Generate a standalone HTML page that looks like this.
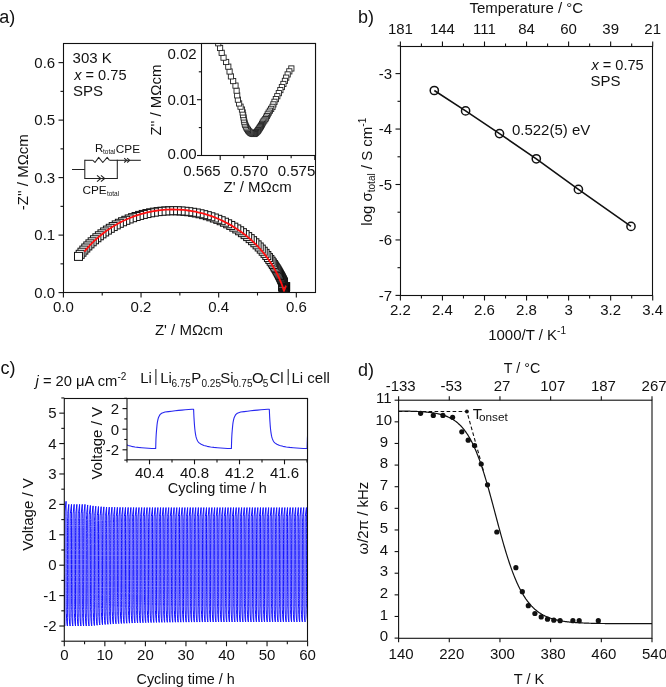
<!DOCTYPE html><html><head><meta charset="utf-8"><style>html,body{margin:0;padding:0;background:#fff;}svg{display:block;will-change:transform;}text{font-family:"Liberation Sans",sans-serif;fill:#111;}</style></head><body><svg width="666" height="687" viewBox="0 0 666 687"><rect width="666" height="687" fill="#fff"/><text x="-0.80" y="22.80" font-size="18" text-anchor="start" >a)</text>
<clipPath id="cA"><rect x="63.5" y="43.5" width="252" height="249"/></clipPath>
<g clip-path="url(#cA)" fill="#fff" stroke="#111" stroke-width="1">
<rect x="281.65" y="282.62" width="8.0" height="8.0"/>
<rect x="281.57" y="282.82" width="8.0" height="8.0"/>
<rect x="281.50" y="283.03" width="8.0" height="8.0"/>
<rect x="281.44" y="283.25" width="8.0" height="8.0"/>
<rect x="281.39" y="283.47" width="8.0" height="8.0"/>
<rect x="281.33" y="283.69" width="8.0" height="8.0"/>
<rect x="281.26" y="283.90" width="8.0" height="8.0"/>
<rect x="281.20" y="284.11" width="8.0" height="8.0"/>
<rect x="281.14" y="284.32" width="8.0" height="8.0"/>
<rect x="281.08" y="284.53" width="8.0" height="8.0"/>
<rect x="281.02" y="284.73" width="8.0" height="8.0"/>
<rect x="280.96" y="284.91" width="8.0" height="8.0"/>
<rect x="280.92" y="285.09" width="8.0" height="8.0"/>
<rect x="280.88" y="285.26" width="8.0" height="8.0"/>
<rect x="280.82" y="285.40" width="8.0" height="8.0"/>
<rect x="280.77" y="285.52" width="8.0" height="8.0"/>
<rect x="280.72" y="285.65" width="8.0" height="8.0"/>
<rect x="280.68" y="285.78" width="8.0" height="8.0"/>
<rect x="280.65" y="285.89" width="8.0" height="8.0"/>
<rect x="280.61" y="286.00" width="8.0" height="8.0"/>
<rect x="280.58" y="286.10" width="8.0" height="8.0"/>
<rect x="280.54" y="286.19" width="8.0" height="8.0"/>
<rect x="280.51" y="286.26" width="8.0" height="8.0"/>
<rect x="280.48" y="286.35" width="8.0" height="8.0"/>
<rect x="280.45" y="286.43" width="8.0" height="8.0"/>
<rect x="280.43" y="286.51" width="8.0" height="8.0"/>
<rect x="280.40" y="286.58" width="8.0" height="8.0"/>
<rect x="280.38" y="286.64" width="8.0" height="8.0"/>
<rect x="280.36" y="286.70" width="8.0" height="8.0"/>
<rect x="280.33" y="286.75" width="8.0" height="8.0"/>
<rect x="280.31" y="286.81" width="8.0" height="8.0"/>
<rect x="280.29" y="286.86" width="8.0" height="8.0"/>
<rect x="280.27" y="286.90" width="8.0" height="8.0"/>
<rect x="280.25" y="286.95" width="8.0" height="8.0"/>
<rect x="280.23" y="286.99" width="8.0" height="8.0"/>
<rect x="280.20" y="287.03" width="8.0" height="8.0"/>
<rect x="280.18" y="287.06" width="8.0" height="8.0"/>
<rect x="280.16" y="287.08" width="8.0" height="8.0"/>
<rect x="280.14" y="287.11" width="8.0" height="8.0"/>
<rect x="280.11" y="287.12" width="8.0" height="8.0"/>
<rect x="280.07" y="287.11" width="8.0" height="8.0"/>
<rect x="280.03" y="287.09" width="8.0" height="8.0"/>
<rect x="280.00" y="287.06" width="8.0" height="8.0"/>
<rect x="279.96" y="287.02" width="8.0" height="8.0"/>
<rect x="279.93" y="286.97" width="8.0" height="8.0"/>
<rect x="279.90" y="286.92" width="8.0" height="8.0"/>
<rect x="279.87" y="286.85" width="8.0" height="8.0"/>
<rect x="279.84" y="286.78" width="8.0" height="8.0"/>
<rect x="279.82" y="286.69" width="8.0" height="8.0"/>
<rect x="279.79" y="286.61" width="8.0" height="8.0"/>
<rect x="279.76" y="286.51" width="8.0" height="8.0"/>
<rect x="279.74" y="286.40" width="8.0" height="8.0"/>
<rect x="279.72" y="286.28" width="8.0" height="8.0"/>
<rect x="279.71" y="286.14" width="8.0" height="8.0"/>
<rect x="279.69" y="285.99" width="8.0" height="8.0"/>
<rect x="279.67" y="285.82" width="8.0" height="8.0"/>
<rect x="279.66" y="285.64" width="8.0" height="8.0"/>
<rect x="279.63" y="285.44" width="8.0" height="8.0"/>
<rect x="279.57" y="285.25" width="8.0" height="8.0"/>
<rect x="279.51" y="285.02" width="8.0" height="8.0"/>
<rect x="279.46" y="284.76" width="8.0" height="8.0"/>
<rect x="279.43" y="284.47" width="8.0" height="8.0"/>
<rect x="279.41" y="284.15" width="8.0" height="8.0"/>
<rect x="279.36" y="283.80" width="8.0" height="8.0"/>
<rect x="279.26" y="283.49" width="8.0" height="8.0"/>
<rect x="279.17" y="283.17" width="8.0" height="8.0"/>
<rect x="279.12" y="282.83" width="8.0" height="8.0"/>
<rect x="279.07" y="282.50" width="8.0" height="8.0"/>
<rect x="278.98" y="282.18" width="8.0" height="8.0"/>
<rect x="278.87" y="281.88" width="8.0" height="8.0"/>
<rect x="278.79" y="281.55" width="8.0" height="8.0"/>
<rect x="278.73" y="281.21" width="8.0" height="8.0"/>
<rect x="278.65" y="280.89" width="8.0" height="8.0"/>
<rect x="278.61" y="280.54" width="8.0" height="8.0"/>
<rect x="279.54" y="279.08" width="8.0" height="8.0"/>
<rect x="279.36" y="278.66" width="8.0" height="8.0"/>
<rect x="279.17" y="278.24" width="8.0" height="8.0"/>
<rect x="278.98" y="277.81" width="8.0" height="8.0"/>
<rect x="278.79" y="277.39" width="8.0" height="8.0"/>
<rect x="278.59" y="276.95" width="8.0" height="8.0"/>
<rect x="278.37" y="276.49" width="8.0" height="8.0"/>
<rect x="278.14" y="275.99" width="8.0" height="8.0"/>
<rect x="277.89" y="275.47" width="8.0" height="8.0"/>
<rect x="277.63" y="274.91" width="8.0" height="8.0"/>
<rect x="277.34" y="274.31" width="8.0" height="8.0"/>
<rect x="277.03" y="273.68" width="8.0" height="8.0"/>
<rect x="276.69" y="273.01" width="8.0" height="8.0"/>
<rect x="276.33" y="272.30" width="8.0" height="8.0"/>
<rect x="275.93" y="271.53" width="8.0" height="8.0"/>
<rect x="275.51" y="270.72" width="8.0" height="8.0"/>
<rect x="275.04" y="269.86" width="8.0" height="8.0"/>
<rect x="274.54" y="268.93" width="8.0" height="8.0"/>
<rect x="273.99" y="267.95" width="8.0" height="8.0"/>
<rect x="273.38" y="266.90" width="8.0" height="8.0"/>
<rect x="272.73" y="265.78" width="8.0" height="8.0"/>
<rect x="272.01" y="264.58" width="8.0" height="8.0"/>
<rect x="271.22" y="263.30" width="8.0" height="8.0"/>
<rect x="270.35" y="261.93" width="8.0" height="8.0"/>
<rect x="269.39" y="260.47" width="8.0" height="8.0"/>
<rect x="268.33" y="258.90" width="8.0" height="8.0"/>
<rect x="267.16" y="257.23" width="8.0" height="8.0"/>
<rect x="265.86" y="255.45" width="8.0" height="8.0"/>
<rect x="264.42" y="253.55" width="8.0" height="8.0"/>
<rect x="262.82" y="251.52" width="8.0" height="8.0"/>
<rect x="261.05" y="249.38" width="8.0" height="8.0"/>
<rect x="259.19" y="247.24" width="8.0" height="8.0"/>
<rect x="257.25" y="245.10" width="8.0" height="8.0"/>
<rect x="255.22" y="242.98" width="8.0" height="8.0"/>
<rect x="253.10" y="240.86" width="8.0" height="8.0"/>
<rect x="250.88" y="238.76" width="8.0" height="8.0"/>
<rect x="248.57" y="236.68" width="8.0" height="8.0"/>
<rect x="246.17" y="234.62" width="8.0" height="8.0"/>
<rect x="243.67" y="232.60" width="8.0" height="8.0"/>
<rect x="241.09" y="230.62" width="8.0" height="8.0"/>
<rect x="238.41" y="228.67" width="8.0" height="8.0"/>
<rect x="235.63" y="226.78" width="8.0" height="8.0"/>
<rect x="232.77" y="224.94" width="8.0" height="8.0"/>
<rect x="229.82" y="223.16" width="8.0" height="8.0"/>
<rect x="226.78" y="221.44" width="8.0" height="8.0"/>
<rect x="223.65" y="219.79" width="8.0" height="8.0"/>
<rect x="220.44" y="218.22" width="8.0" height="8.0"/>
<rect x="217.16" y="216.73" width="8.0" height="8.0"/>
<rect x="213.80" y="215.33" width="8.0" height="8.0"/>
<rect x="210.37" y="214.02" width="8.0" height="8.0"/>
<rect x="206.87" y="212.80" width="8.0" height="8.0"/>
<rect x="203.31" y="211.68" width="8.0" height="8.0"/>
<rect x="199.70" y="210.67" width="8.0" height="8.0"/>
<rect x="196.03" y="209.77" width="8.0" height="8.0"/>
<rect x="192.32" y="208.98" width="8.0" height="8.0"/>
<rect x="188.57" y="208.30" width="8.0" height="8.0"/>
<rect x="184.78" y="207.74" width="8.0" height="8.0"/>
<rect x="180.97" y="207.30" width="8.0" height="8.0"/>
<rect x="177.14" y="206.98" width="8.0" height="8.0"/>
<rect x="173.30" y="206.78" width="8.0" height="8.0"/>
<rect x="169.45" y="206.70" width="8.0" height="8.0"/>
<rect x="165.60" y="206.75" width="8.0" height="8.0"/>
<rect x="161.76" y="206.92" width="8.0" height="8.0"/>
<rect x="157.94" y="207.21" width="8.0" height="8.0"/>
<rect x="154.13" y="207.62" width="8.0" height="8.0"/>
<rect x="150.35" y="208.15" width="8.0" height="8.0"/>
<rect x="146.61" y="208.80" width="8.0" height="8.0"/>
<rect x="142.90" y="209.56" width="8.0" height="8.0"/>
<rect x="139.25" y="210.43" width="8.0" height="8.0"/>
<rect x="135.64" y="211.41" width="8.0" height="8.0"/>
<rect x="132.09" y="212.49" width="8.0" height="8.0"/>
<rect x="128.60" y="213.67" width="8.0" height="8.0"/>
<rect x="125.18" y="214.94" width="8.0" height="8.0"/>
<rect x="121.83" y="216.31" width="8.0" height="8.0"/>
<rect x="118.56" y="217.76" width="8.0" height="8.0"/>
<rect x="115.36" y="219.29" width="8.0" height="8.0"/>
<rect x="112.24" y="220.89" width="8.0" height="8.0"/>
<rect x="109.21" y="222.56" width="8.0" height="8.0"/>
<rect x="106.26" y="224.30" width="8.0" height="8.0"/>
<rect x="103.41" y="226.10" width="8.0" height="8.0"/>
<rect x="100.64" y="227.95" width="8.0" height="8.0"/>
<rect x="97.96" y="229.84" width="8.0" height="8.0"/>
<rect x="95.37" y="231.78" width="8.0" height="8.0"/>
<rect x="92.88" y="233.76" width="8.0" height="8.0"/>
<rect x="90.48" y="235.76" width="8.0" height="8.0"/>
<rect x="88.17" y="237.80" width="8.0" height="8.0"/>
<rect x="85.95" y="239.85" width="8.0" height="8.0"/>
<rect x="83.82" y="241.93" width="8.0" height="8.0"/>
<rect x="81.78" y="244.01" width="8.0" height="8.0"/>
<rect x="79.83" y="246.10" width="8.0" height="8.0"/>
<rect x="77.96" y="248.20" width="8.0" height="8.0"/>
<rect x="76.18" y="250.30" width="8.0" height="8.0"/>
<rect x="74.49" y="252.39" width="8.0" height="8.0"/>
</g>
<polyline points="84.39,251.60 85.98,249.69 87.61,247.82 89.28,245.98 90.99,244.18 92.74,242.42 94.52,240.70 96.35,239.01 98.21,237.37 100.10,235.77 102.03,234.20 103.99,232.68 105.98,231.21 108.01,229.78 110.07,228.39 112.15,227.04 114.27,225.74 116.41,224.49 118.58,223.29 120.77,222.13 122.99,221.02 125.24,219.96 127.50,218.95 129.79,217.98 132.10,217.07 134.42,216.21 136.77,215.39 139.13,214.63 141.51,213.92 143.90,213.27 146.31,212.66 148.72,212.11 151.16,211.61 153.60,211.16 156.05,210.76 158.50,210.42 160.97,210.14 163.44,209.90 165.91,209.72 168.39,209.59 170.87,209.52 173.35,209.50 175.83,209.54 178.31,209.62 180.79,209.77 183.27,209.96 185.73,210.21 188.20,210.51 190.65,210.87 193.10,211.28 195.54,211.74 197.97,212.26 200.38,212.83 202.78,213.45 205.17,214.12 207.55,214.85 209.90,215.62 212.24,216.45 214.56,217.32 216.87,218.25 219.15,219.23 221.41,220.26 223.64,221.33 225.85,222.45 228.04,223.63 230.20,224.84 232.34,226.11 234.45,227.42 236.52,228.78 238.57,230.18 240.62,231.58 242.63,233.03 244.62,234.53 246.57,236.07 248.49,237.65 250.38,239.27 252.23,240.93 254.04,242.64 255.82,244.38 257.56,246.16 259.27,247.99 260.93,249.84 262.55,251.74 264.14,253.67 265.68,255.64 267.18,257.63 268.63,259.67 270.04,261.73 271.41,263.83 272.73,265.95 274.01,268.11 275.24,270.29 276.42,272.50 277.55,274.74 278.64,277.00 279.68,279.28 280.67,281.59 281.60,283.92 282.45,286.29 283.24,288.67 283.97,291.07" fill="none" stroke="#ff1010" stroke-width="1.8" stroke-linejoin="round" />
<polyline points="283.97,291.07 285.80,286.20" fill="none" stroke="#ff1010" stroke-width="1.7" stroke-linejoin="round" stroke-linecap="round"/>
<rect x="63.50" y="43.50" width="252.00" height="249.00" fill="none" stroke="#111" stroke-width="1.1"/>
<line x1="58.50" y1="292.60" x2="63.50" y2="292.60" stroke="#111" stroke-width="1.1" />
<text x="55.20" y="297.90" font-size="15" text-anchor="end" >0.0</text>
<line x1="58.50" y1="235.11" x2="63.50" y2="235.11" stroke="#111" stroke-width="1.1" />
<text x="55.20" y="240.41" font-size="15" text-anchor="end" >0.1</text>
<line x1="58.50" y1="177.61" x2="63.50" y2="177.61" stroke="#111" stroke-width="1.1" />
<text x="55.20" y="182.91" font-size="15" text-anchor="end" >0.3</text>
<line x1="58.50" y1="120.12" x2="63.50" y2="120.12" stroke="#111" stroke-width="1.1" />
<text x="55.20" y="125.42" font-size="15" text-anchor="end" >0.5</text>
<line x1="58.50" y1="62.62" x2="63.50" y2="62.62" stroke="#111" stroke-width="1.1" />
<text x="55.20" y="67.92" font-size="15" text-anchor="end" >0.6</text>
<line x1="60.50" y1="263.85" x2="63.50" y2="263.85" stroke="#111" stroke-width="1.1" />
<line x1="60.50" y1="206.36" x2="63.50" y2="206.36" stroke="#111" stroke-width="1.1" />
<line x1="60.50" y1="148.86" x2="63.50" y2="148.86" stroke="#111" stroke-width="1.1" />
<line x1="60.50" y1="91.37" x2="63.50" y2="91.37" stroke="#111" stroke-width="1.1" />
<line x1="63.40" y1="292.50" x2="63.40" y2="297.50" stroke="#111" stroke-width="1.1" />
<text x="63.40" y="312.30" font-size="15" text-anchor="middle" >0.0</text>
<line x1="141.04" y1="292.50" x2="141.04" y2="297.50" stroke="#111" stroke-width="1.1" />
<text x="141.04" y="312.30" font-size="15" text-anchor="middle" >0.2</text>
<line x1="218.68" y1="292.50" x2="218.68" y2="297.50" stroke="#111" stroke-width="1.1" />
<text x="218.68" y="312.30" font-size="15" text-anchor="middle" >0.4</text>
<line x1="296.32" y1="292.50" x2="296.32" y2="297.50" stroke="#111" stroke-width="1.1" />
<text x="296.32" y="312.30" font-size="15" text-anchor="middle" >0.6</text>
<line x1="102.22" y1="292.50" x2="102.22" y2="295.50" stroke="#111" stroke-width="1.1" />
<line x1="179.86" y1="292.50" x2="179.86" y2="295.50" stroke="#111" stroke-width="1.1" />
<line x1="257.50" y1="292.50" x2="257.50" y2="295.50" stroke="#111" stroke-width="1.1" />
<text x="189.00" y="335.40" font-size="15" text-anchor="middle" >Z' / MΩcm</text>
<text transform="translate(27.5,172.2) rotate(-90)" font-size="15" text-anchor="middle">-Z'' / MΩcm</text>
<text x="72.60" y="62.70" font-size="15" text-anchor="start" >303 K</text>
<text x="74.2" y="80" font-size="14.6"><tspan font-style="italic">x</tspan> = 0.75</text>
<text x="72.90" y="95.70" font-size="15" text-anchor="start" >SPS</text>
<line x1="72.00" y1="169.50" x2="84.80" y2="169.50" stroke="#222" stroke-width="1.05" />
<line x1="84.80" y1="160.30" x2="84.80" y2="178.50" stroke="#222" stroke-width="1.05" stroke-linecap="square"/>
<line x1="84.80" y1="160.30" x2="92.90" y2="160.30" stroke="#222" stroke-width="1.05" />
<polyline points="92.90,160.30 95.00,162.50 98.70,157.40 102.80,162.50 107.20,157.40 109.40,160.30" fill="none" stroke="#222" stroke-width="1.05" stroke-linejoin="round" />
<line x1="109.40" y1="160.30" x2="140.80" y2="160.30" stroke="#222" stroke-width="1.05" />
<line x1="117.30" y1="160.30" x2="117.30" y2="178.50" stroke="#222" stroke-width="1.05" stroke-linecap="square"/>
<line x1="84.80" y1="178.50" x2="117.30" y2="178.50" stroke="#222" stroke-width="1.05" />
<polyline points="124.20,158.10 126.80,160.30 124.20,162.50" fill="none" stroke="#222" stroke-width="1.05" stroke-linejoin="round" />
<polyline points="127.10,158.10 129.70,160.30 127.10,162.50" fill="none" stroke="#222" stroke-width="1.05" stroke-linejoin="round" />
<polyline points="97.00,175.30 100.70,178.50 97.00,181.70" fill="none" stroke="#222" stroke-width="1.05" stroke-linejoin="round" />
<polyline points="100.90,175.30 104.60,178.50 100.90,181.70" fill="none" stroke="#222" stroke-width="1.05" stroke-linejoin="round" />
<text x="94.90" y="151.60" font-size="11.5" text-anchor="start" >R</text>
<text x="103.00" y="154.00" font-size="6.5" text-anchor="start" >total</text>
<text x="115.80" y="153.20" font-size="11.8" text-anchor="start" >CPE</text>
<text x="82.40" y="193.50" font-size="11.8" text-anchor="start" >CPE</text>
<text x="106.90" y="195.90" font-size="6.5" text-anchor="start" >total</text>
<clipPath id="ca"><rect x="201.5" y="43.5" width="114" height="112"/></clipPath>
<rect x="201.5" y="43.5" width="114" height="112" fill="#fff"/>
<g clip-path="url(#ca)" fill="#fff" stroke="#222" stroke-width="0.9">
<rect x="288.75" y="65.87" width="5.2" height="5.2"/>
<rect x="286.71" y="68.76" width="5.2" height="5.2"/>
<rect x="285.06" y="71.82" width="5.2" height="5.2"/>
<rect x="283.61" y="75.05" width="5.2" height="5.2"/>
<rect x="282.31" y="78.27" width="5.2" height="5.2"/>
<rect x="280.82" y="81.36" width="5.2" height="5.2"/>
<rect x="279.29" y="84.43" width="5.2" height="5.2"/>
<rect x="277.76" y="87.49" width="5.2" height="5.2"/>
<rect x="276.23" y="90.55" width="5.2" height="5.2"/>
<rect x="274.70" y="93.62" width="5.2" height="5.2"/>
<rect x="273.26" y="96.50" width="5.2" height="5.2"/>
<rect x="271.90" y="99.20" width="5.2" height="5.2"/>
<rect x="270.81" y="101.79" width="5.2" height="5.2"/>
<rect x="269.90" y="104.24" width="5.2" height="5.2"/>
<rect x="268.55" y="106.26" width="5.2" height="5.2"/>
<rect x="267.31" y="108.12" width="5.2" height="5.2"/>
<rect x="266.11" y="110.01" width="5.2" height="5.2"/>
<rect x="265.12" y="111.81" width="5.2" height="5.2"/>
<rect x="264.25" y="113.44" width="5.2" height="5.2"/>
<rect x="263.44" y="115.06" width="5.2" height="5.2"/>
<rect x="262.72" y="116.50" width="5.2" height="5.2"/>
<rect x="261.73" y="117.79" width="5.2" height="5.2"/>
<rect x="260.84" y="118.91" width="5.2" height="5.2"/>
<rect x="260.10" y="120.10" width="5.2" height="5.2"/>
<rect x="259.47" y="121.36" width="5.2" height="5.2"/>
<rect x="258.93" y="122.45" width="5.2" height="5.2"/>
<rect x="258.32" y="123.49" width="5.2" height="5.2"/>
<rect x="257.76" y="124.34" width="5.2" height="5.2"/>
<rect x="257.20" y="125.18" width="5.2" height="5.2"/>
<rect x="256.63" y="126.03" width="5.2" height="5.2"/>
<rect x="256.07" y="126.87" width="5.2" height="5.2"/>
<rect x="255.62" y="127.55" width="5.2" height="5.2"/>
<rect x="255.17" y="128.22" width="5.2" height="5.2"/>
<rect x="254.61" y="128.84" width="5.2" height="5.2"/>
<rect x="254.01" y="129.44" width="5.2" height="5.2"/>
<rect x="253.41" y="130.04" width="5.2" height="5.2"/>
<rect x="252.90" y="130.45" width="5.2" height="5.2"/>
<rect x="252.35" y="130.82" width="5.2" height="5.2"/>
<rect x="251.81" y="131.20" width="5.2" height="5.2"/>
<rect x="251.25" y="131.41" width="5.2" height="5.2"/>
<rect x="250.25" y="131.21" width="5.2" height="5.2"/>
<rect x="249.29" y="130.91" width="5.2" height="5.2"/>
<rect x="248.39" y="130.46" width="5.2" height="5.2"/>
<rect x="247.55" y="129.89" width="5.2" height="5.2"/>
<rect x="246.80" y="129.14" width="5.2" height="5.2"/>
<rect x="246.05" y="128.39" width="5.2" height="5.2"/>
<rect x="245.37" y="127.38" width="5.2" height="5.2"/>
<rect x="244.70" y="126.36" width="5.2" height="5.2"/>
<rect x="243.98" y="125.15" width="5.2" height="5.2"/>
<rect x="243.35" y="123.89" width="5.2" height="5.2"/>
<rect x="242.63" y="122.45" width="5.2" height="5.2"/>
<rect x="242.14" y="120.88" width="5.2" height="5.2"/>
<rect x="241.69" y="119.08" width="5.2" height="5.2"/>
<rect x="241.33" y="117.08" width="5.2" height="5.2"/>
<rect x="241.00" y="114.88" width="5.2" height="5.2"/>
<rect x="240.52" y="112.48" width="5.2" height="5.2"/>
<rect x="240.07" y="109.87" width="5.2" height="5.2"/>
<rect x="239.38" y="106.95" width="5.2" height="5.2"/>
<rect x="237.94" y="104.07" width="5.2" height="5.2"/>
<rect x="236.49" y="100.84" width="5.2" height="5.2"/>
<rect x="235.30" y="97.06" width="5.2" height="5.2"/>
<rect x="234.58" y="92.76" width="5.2" height="5.2"/>
<rect x="234.00" y="88.06" width="5.2" height="5.2"/>
<rect x="232.89" y="82.99" width="5.2" height="5.2"/>
<rect x="230.55" y="78.47" width="5.2" height="5.2"/>
<rect x="228.34" y="73.78" width="5.2" height="5.2"/>
<rect x="226.98" y="68.89" width="5.2" height="5.2"/>
<rect x="225.69" y="64.05" width="5.2" height="5.2"/>
<rect x="223.53" y="59.38" width="5.2" height="5.2"/>
<rect x="220.93" y="55.05" width="5.2" height="5.2"/>
<rect x="219.09" y="50.21" width="5.2" height="5.2"/>
<rect x="217.48" y="45.38" width="5.2" height="5.2"/>
<rect x="215.64" y="40.67" width="5.2" height="5.2"/>
<rect x="214.52" y="35.60" width="5.2" height="5.2"/>
</g>
<rect x="201.5" y="43.5" width="114.0" height="112.0" fill="none" stroke="#111" stroke-width="1.1"/>
<line x1="197.00" y1="155.50" x2="201.50" y2="155.50" stroke="#111" stroke-width="1.1" />
<text x="196.60" y="159.20" font-size="15" text-anchor="end" >0.00</text>
<line x1="197.00" y1="99.70" x2="201.50" y2="99.70" stroke="#111" stroke-width="1.1" />
<text x="196.60" y="105.20" font-size="15" text-anchor="end" >0.01</text>
<text x="196.60" y="58.80" font-size="15" text-anchor="end" >0.02</text>
<line x1="198.80" y1="127.60" x2="201.50" y2="127.60" stroke="#111" stroke-width="1.1" />
<line x1="198.80" y1="71.80" x2="201.50" y2="71.80" stroke="#111" stroke-width="1.1" />
<line x1="220.20" y1="155.50" x2="220.20" y2="160.00" stroke="#111" stroke-width="1.1" />
<text x="220.70" y="176.20" font-size="15" text-anchor="end" >0.565</text>
<line x1="267.50" y1="155.50" x2="267.50" y2="160.00" stroke="#111" stroke-width="1.1" />
<text x="268.00" y="176.20" font-size="15" text-anchor="end" >0.570</text>
<line x1="314.80" y1="155.50" x2="314.80" y2="160.00" stroke="#111" stroke-width="1.1" />
<text x="315.30" y="176.20" font-size="15" text-anchor="end" >0.575</text>
<line x1="243.85" y1="155.50" x2="243.85" y2="158.20" stroke="#111" stroke-width="1.1" />
<line x1="291.15" y1="155.50" x2="291.15" y2="158.20" stroke="#111" stroke-width="1.1" />
<text x="257.70" y="192.20" font-size="15" text-anchor="middle" >Z' / MΩcm</text>
<text transform="translate(161.4,100) rotate(-90)" font-size="15" text-anchor="middle">Z'' / MΩcm</text>
<text x="358.10" y="22.90" font-size="18" text-anchor="start" >b)</text>
<rect x="400.50" y="46.50" width="252.00" height="249.00" fill="none" stroke="#111" stroke-width="1.1"/>
<line x1="400.40" y1="295.50" x2="400.40" y2="300.50" stroke="#111" stroke-width="1.1" />
<line x1="400.40" y1="46.50" x2="400.40" y2="41.50" stroke="#111" stroke-width="1.1" />
<text x="400.40" y="315.00" font-size="15" text-anchor="middle" >2.2</text>
<text x="400.40" y="34.20" font-size="15" text-anchor="middle" >181</text>
<line x1="442.45" y1="295.50" x2="442.45" y2="300.50" stroke="#111" stroke-width="1.1" />
<line x1="442.45" y1="46.50" x2="442.45" y2="41.50" stroke="#111" stroke-width="1.1" />
<text x="442.45" y="315.00" font-size="15" text-anchor="middle" >2.4</text>
<text x="442.45" y="34.20" font-size="15" text-anchor="middle" >144</text>
<line x1="484.50" y1="295.50" x2="484.50" y2="300.50" stroke="#111" stroke-width="1.1" />
<line x1="484.50" y1="46.50" x2="484.50" y2="41.50" stroke="#111" stroke-width="1.1" />
<text x="484.50" y="315.00" font-size="15" text-anchor="middle" >2.6</text>
<text x="484.50" y="34.20" font-size="15" text-anchor="middle" >111</text>
<line x1="526.55" y1="295.50" x2="526.55" y2="300.50" stroke="#111" stroke-width="1.1" />
<line x1="526.55" y1="46.50" x2="526.55" y2="41.50" stroke="#111" stroke-width="1.1" />
<text x="526.55" y="315.00" font-size="15" text-anchor="middle" >2.8</text>
<text x="526.55" y="34.20" font-size="15" text-anchor="middle" >84</text>
<line x1="568.60" y1="295.50" x2="568.60" y2="300.50" stroke="#111" stroke-width="1.1" />
<line x1="568.60" y1="46.50" x2="568.60" y2="41.50" stroke="#111" stroke-width="1.1" />
<text x="568.60" y="315.00" font-size="15" text-anchor="middle" >3</text>
<text x="568.60" y="34.20" font-size="15" text-anchor="middle" >60</text>
<line x1="610.65" y1="295.50" x2="610.65" y2="300.50" stroke="#111" stroke-width="1.1" />
<line x1="610.65" y1="46.50" x2="610.65" y2="41.50" stroke="#111" stroke-width="1.1" />
<text x="610.65" y="315.00" font-size="15" text-anchor="middle" >3.2</text>
<text x="610.65" y="34.20" font-size="15" text-anchor="middle" >39</text>
<line x1="652.70" y1="295.50" x2="652.70" y2="300.50" stroke="#111" stroke-width="1.1" />
<line x1="652.70" y1="46.50" x2="652.70" y2="41.50" stroke="#111" stroke-width="1.1" />
<text x="652.70" y="315.00" font-size="15" text-anchor="middle" >3.4</text>
<text x="652.70" y="34.20" font-size="15" text-anchor="middle" >21</text>
<line x1="421.42" y1="295.50" x2="421.42" y2="298.50" stroke="#111" stroke-width="1.1" />
<line x1="421.42" y1="46.50" x2="421.42" y2="43.50" stroke="#111" stroke-width="1.1" />
<line x1="463.47" y1="295.50" x2="463.47" y2="298.50" stroke="#111" stroke-width="1.1" />
<line x1="463.47" y1="46.50" x2="463.47" y2="43.50" stroke="#111" stroke-width="1.1" />
<line x1="505.52" y1="295.50" x2="505.52" y2="298.50" stroke="#111" stroke-width="1.1" />
<line x1="505.52" y1="46.50" x2="505.52" y2="43.50" stroke="#111" stroke-width="1.1" />
<line x1="547.57" y1="295.50" x2="547.57" y2="298.50" stroke="#111" stroke-width="1.1" />
<line x1="547.57" y1="46.50" x2="547.57" y2="43.50" stroke="#111" stroke-width="1.1" />
<line x1="589.62" y1="295.50" x2="589.62" y2="298.50" stroke="#111" stroke-width="1.1" />
<line x1="589.62" y1="46.50" x2="589.62" y2="43.50" stroke="#111" stroke-width="1.1" />
<line x1="631.67" y1="295.50" x2="631.67" y2="298.50" stroke="#111" stroke-width="1.1" />
<line x1="631.67" y1="46.50" x2="631.67" y2="43.50" stroke="#111" stroke-width="1.1" />
<line x1="395.50" y1="73.60" x2="400.50" y2="73.60" stroke="#111" stroke-width="1.1" />
<text x="392.20" y="78.90" font-size="15" text-anchor="end" >-3</text>
<line x1="395.50" y1="129.05" x2="400.50" y2="129.05" stroke="#111" stroke-width="1.1" />
<text x="392.20" y="134.35" font-size="15" text-anchor="end" >-4</text>
<line x1="395.50" y1="184.50" x2="400.50" y2="184.50" stroke="#111" stroke-width="1.1" />
<text x="392.20" y="189.80" font-size="15" text-anchor="end" >-5</text>
<line x1="395.50" y1="239.95" x2="400.50" y2="239.95" stroke="#111" stroke-width="1.1" />
<text x="392.20" y="245.25" font-size="15" text-anchor="end" >-6</text>
<line x1="395.50" y1="295.40" x2="400.50" y2="295.40" stroke="#111" stroke-width="1.1" />
<text x="392.20" y="300.70" font-size="15" text-anchor="end" >-7</text>
<line x1="397.50" y1="45.87" x2="400.50" y2="45.87" stroke="#111" stroke-width="1.1" />
<line x1="397.50" y1="101.32" x2="400.50" y2="101.32" stroke="#111" stroke-width="1.1" />
<line x1="397.50" y1="156.78" x2="400.50" y2="156.78" stroke="#111" stroke-width="1.1" />
<line x1="397.50" y1="212.22" x2="400.50" y2="212.22" stroke="#111" stroke-width="1.1" />
<line x1="397.50" y1="267.68" x2="400.50" y2="267.68" stroke="#111" stroke-width="1.1" />
<text x="526.30" y="13.00" font-size="15" text-anchor="middle" >Temperature / °C</text>
<text x="527.1" y="339.8" font-size="15" text-anchor="middle">1000/T / K<tspan font-size="10" dy="-6">-1</tspan></text>
<text transform="translate(371.8,171.7) rotate(-90)" font-size="15" text-anchor="middle">log σ<tspan font-size="10" dy="3">total</tspan><tspan dy="-3"> / S cm</tspan><tspan font-size="10" dy="-6">-1</tspan></text>
<text x="591.4" y="69.7" font-size="14.6"><tspan font-style="italic">x</tspan> = 0.75</text>
<text x="590.50" y="85.60" font-size="15" text-anchor="start" >SPS</text>
<text x="511.90" y="135.30" font-size="15" text-anchor="start" >0.522(5) eV</text>
<polyline points="434.30,90.50 465.60,110.90 499.50,133.60 536.30,158.80 578.40,189.40 631.00,226.40" fill="none" stroke="#111" stroke-width="1.6" stroke-linejoin="round" />
<circle cx="434.3" cy="90.5" r="4.1" fill="none" stroke="#111" stroke-width="1.5"/>
<circle cx="465.6" cy="110.9" r="4.1" fill="none" stroke="#111" stroke-width="1.5"/>
<circle cx="499.5" cy="133.6" r="4.1" fill="none" stroke="#111" stroke-width="1.5"/>
<circle cx="536.3" cy="158.8" r="4.1" fill="none" stroke="#111" stroke-width="1.5"/>
<circle cx="578.4" cy="189.4" r="4.1" fill="none" stroke="#111" stroke-width="1.5"/>
<circle cx="631.0" cy="226.4" r="4.1" fill="none" stroke="#111" stroke-width="1.5"/>
<text x="0.60" y="373.60" font-size="18" text-anchor="start" >c)</text>
<clipPath id="cc"><rect x="64.3" y="398.5" width="243.2" height="242.7"/></clipPath>
<path d="M64.30,574.91 L64.71,626.02 C64.71,532.28 64.79,512.53 65.02,510.89 L66.07,501.34 C66.08,584.61 66.15,610.49 66.36,613.40 Q66.72,624.08 67.41,626.02 L67.41,626.02 C67.41,533.85 67.49,515.04 67.72,513.47 L68.77,504.38 C68.78,584.61 68.85,610.49 69.06,613.40 Q69.42,624.08 70.11,626.02 L70.11,626.02 C70.11,533.85 70.19,515.04 70.42,513.47 L71.47,504.38 C71.48,584.61 71.55,610.49 71.77,613.40 Q72.12,624.08 72.81,626.02 L72.81,626.02 C72.82,533.85 72.89,515.04 73.12,513.47 L74.17,504.38 C74.18,584.61 74.26,610.49 74.47,613.40 Q74.82,624.08 75.51,626.02 L75.51,626.02 C75.52,533.85 75.59,515.04 75.82,513.47 L76.87,504.38 C76.88,584.61 76.96,610.49 77.17,613.40 Q77.52,624.08 78.21,626.02 L78.21,626.02 C78.22,533.85 78.29,515.04 78.52,513.47 L79.58,504.38 C79.58,584.61 79.66,610.49 79.87,613.40 Q80.22,624.08 80.91,626.02 L80.91,626.02 C80.92,533.85 80.99,515.04 81.22,513.47 L82.28,504.38 C82.28,584.61 82.36,610.49 82.57,613.40 Q82.92,624.08 83.61,626.02 L83.61,626.02 C83.62,533.85 83.69,515.04 83.92,513.47 L84.98,504.38 C84.98,584.61 85.06,610.49 85.27,613.40 Q85.63,624.08 86.31,626.02 L86.31,626.02 C86.32,534.15 86.39,515.52 86.62,513.96 L87.68,504.96 C87.69,584.61 87.76,610.49 87.97,613.40 Q88.33,624.08 89.01,626.02 L89.01,625.89 C89.02,534.42 89.09,515.94 89.32,514.41 L90.38,505.48 C90.39,584.57 90.46,610.39 90.67,613.30 Q91.03,623.95 91.71,625.89 L91.71,625.57 C91.72,534.63 91.79,516.29 92.02,514.76 L93.08,505.89 C93.09,584.47 93.16,610.16 93.37,613.05 Q93.73,623.64 94.41,625.57 L94.41,625.28 C94.42,534.80 94.49,516.56 94.72,515.04 L95.78,506.23 C95.79,584.37 95.86,609.94 96.07,612.81 Q96.43,623.36 97.11,625.28 L97.11,625.01 C97.12,534.94 97.19,516.78 97.43,515.27 L98.48,506.50 C98.49,584.29 98.56,609.74 98.77,612.60 Q99.13,623.10 99.81,625.01 L99.81,624.76 C99.82,535.05 99.89,516.96 100.13,515.45 L101.18,506.71 C101.19,584.21 101.26,609.55 101.47,612.41 Q101.83,622.86 102.51,624.76 L102.51,624.53 C102.52,535.14 102.60,517.10 102.83,515.60 L103.88,506.88 C103.89,584.14 103.96,609.39 104.17,612.23 Q104.53,622.64 105.21,624.53 L105.21,624.33 C105.22,535.21 105.30,517.22 105.53,515.72 L106.58,507.02 C106.59,584.07 106.66,609.23 106.87,612.06 Q107.23,622.44 107.92,624.33 L107.92,624.13 C107.92,535.27 108.00,517.31 108.23,515.81 L109.28,507.13 C109.29,584.01 109.36,609.09 109.57,611.91 Q109.93,622.25 110.62,624.13 L110.62,623.96 C110.62,535.31 110.70,517.38 110.93,515.89 L111.98,507.22 C111.99,583.95 112.06,608.95 112.27,611.77 Q112.63,622.08 113.32,623.96 L113.32,623.79 C113.32,535.35 113.40,517.44 113.63,515.95 L114.68,507.29 C114.69,583.90 114.76,608.83 114.98,611.64 Q115.33,621.92 116.02,623.79 L116.02,623.64 C116.03,535.38 116.10,517.48 116.33,515.99 L117.38,507.35 C117.39,583.85 117.47,608.72 117.68,611.52 Q118.03,621.78 118.72,623.64 L118.72,623.50 C118.73,535.40 118.80,517.52 119.03,516.03 L120.08,507.39 C120.09,583.81 120.17,608.62 120.38,611.41 Q120.73,621.64 121.42,623.50 L121.42,623.38 C121.43,535.42 121.50,517.55 121.73,516.06 L122.79,507.43 C122.79,583.77 122.87,608.52 123.08,611.31 Q123.43,621.52 124.12,623.38 L124.12,623.26 C124.13,535.44 124.20,517.58 124.43,516.09 L125.49,507.46 C125.49,583.73 125.57,608.44 125.78,611.22 Q126.13,621.41 126.82,623.26 L126.82,623.15 C126.83,535.45 126.90,517.60 127.13,516.11 L128.19,507.48 C128.19,583.70 128.27,608.36 128.48,611.13 Q128.84,621.30 129.52,623.15 L129.52,623.05 C129.53,535.46 129.60,517.61 129.83,516.12 L130.89,507.50 C130.90,583.66 130.97,608.28 131.18,611.05 Q131.54,621.21 132.22,623.05 L132.22,622.96 C132.23,535.46 132.30,517.62 132.53,516.14 L133.59,507.51 C133.60,583.64 133.67,608.22 133.88,610.98 Q134.24,621.12 134.92,622.96 L134.92,622.88 C134.93,535.47 135.00,517.63 135.23,516.15 L136.29,507.52 C136.30,583.61 136.37,608.15 136.58,610.91 Q136.94,621.04 137.62,622.88 L137.62,622.80 C137.63,535.48 137.70,517.64 137.93,516.15 L138.99,507.53 C139.00,583.58 139.07,608.10 139.28,610.85 Q139.64,620.96 140.32,622.80 L140.32,622.73 C140.33,535.48 140.40,517.65 140.64,516.16 L141.69,507.54 C141.70,583.56 141.77,608.04 141.98,610.80 Q142.34,620.90 143.02,622.73 L143.02,622.67 C143.03,535.48 143.10,517.65 143.34,516.17 L144.39,507.55 C144.40,583.54 144.47,607.99 144.68,610.74 Q145.04,620.83 145.72,622.67 L145.72,622.61 C145.73,535.49 145.81,517.66 146.04,516.17 L147.09,507.55 C147.10,583.52 147.17,607.95 147.38,610.70 Q147.74,620.77 148.43,622.61 L148.43,622.55 C148.43,535.49 148.51,517.66 148.74,516.17 L149.79,507.56 C149.80,583.50 149.87,607.91 150.08,610.65 Q150.44,620.72 151.13,622.55 L151.13,622.50 C151.13,535.49 151.21,517.66 151.44,516.18 L152.49,507.56 C152.50,583.49 152.57,607.87 152.78,610.61 Q153.14,620.67 153.83,622.50 L153.83,622.45 C153.83,535.49 153.91,517.66 154.14,516.18 L155.19,507.56 C155.20,583.47 155.27,607.84 155.48,610.58 Q155.84,620.63 156.53,622.45 L156.53,622.41 C156.54,535.49 156.61,517.67 156.84,516.18 L157.89,507.56 C157.90,583.46 157.97,607.80 158.19,610.54 Q158.54,620.58 159.23,622.41 L159.23,622.37 C159.24,535.49 159.31,517.67 159.54,516.18 L160.59,507.57 C160.60,583.45 160.68,607.77 160.89,610.51 Q161.24,620.55 161.93,622.37 L161.93,622.33 C161.94,535.49 162.01,517.67 162.24,516.18 L163.29,507.57 C163.30,583.43 163.38,607.75 163.59,610.48 Q163.94,620.51 164.63,622.33 L164.63,622.30 C164.64,535.49 164.71,517.67 164.94,516.18 L166.00,507.57 C166.00,583.42 166.08,607.72 166.29,610.46 Q166.64,620.48 167.33,622.30 L167.33,622.27 C167.34,535.49 167.41,517.67 167.64,516.18 L168.70,507.57 C168.70,583.41 168.78,607.70 168.99,610.43 Q169.34,620.45 170.03,622.27 L170.03,622.24 C170.04,535.49 170.11,517.67 170.34,516.19 L171.40,507.57 C171.40,583.40 171.48,607.68 171.69,610.41 Q172.05,620.42 172.73,622.24 L172.73,622.22 C172.74,535.49 172.81,517.67 173.04,516.19 L174.10,507.57 C174.11,583.40 174.18,607.66 174.39,610.39 Q174.75,620.40 175.43,622.22 L175.43,622.19 C175.44,535.49 175.51,517.67 175.74,516.19 L176.80,507.57 C176.81,583.39 176.88,607.64 177.09,610.37 Q177.45,620.37 178.13,622.19 L178.13,622.17 C178.14,535.49 178.21,517.67 178.44,516.19 L179.50,507.57 C179.51,583.38 179.58,607.62 179.79,610.35 Q180.15,620.35 180.83,622.17 L180.83,622.15 C180.84,535.49 180.91,517.67 181.14,516.19 L182.20,507.57 C182.21,583.38 182.28,607.61 182.49,610.34 Q182.85,620.33 183.53,622.15 L183.53,622.13 C183.54,535.49 183.61,517.67 183.85,516.19 L184.90,507.57 C184.91,583.37 184.98,607.59 185.19,610.32 Q185.55,620.31 186.23,622.13 L186.23,622.11 C186.24,535.50 186.31,517.67 186.55,516.19 L187.60,507.57 C187.61,583.36 187.68,607.58 187.89,610.31 Q188.25,620.30 188.93,622.11 L188.93,622.10 C188.94,535.50 189.02,517.67 189.25,516.19 L190.30,507.57 C190.31,583.36 190.38,607.57 190.59,610.29 Q190.95,620.28 191.64,622.10 L191.64,622.08 C191.64,535.50 191.72,517.67 191.95,516.19 L193.00,507.57 C193.01,583.35 193.08,607.56 193.29,610.28 Q193.65,620.27 194.34,622.08 L194.34,622.07 C194.34,535.50 194.42,517.67 194.65,516.19 L195.70,507.57 C195.71,583.35 195.78,607.55 195.99,610.27 Q196.35,620.25 197.04,622.07 L197.04,622.06 C197.04,535.50 197.12,517.67 197.35,516.19 L198.40,507.57 C198.41,583.35 198.48,607.54 198.69,610.26 Q199.05,620.24 199.74,622.06 L199.74,622.05 C199.75,535.50 199.82,517.67 200.05,516.19 L201.10,507.57 C201.11,583.34 201.18,607.53 201.40,610.25 Q201.75,620.23 202.44,622.05 L202.44,622.04 C202.45,535.50 202.52,517.67 202.75,516.19 L203.80,507.57 C203.81,583.34 203.89,607.52 204.10,610.24 Q204.45,620.22 205.14,622.04 L205.14,622.03 C205.15,535.50 205.22,517.67 205.45,516.19 L206.50,507.57 C206.51,583.34 206.59,607.52 206.80,610.24 Q207.15,620.21 207.84,622.03 L207.84,622.02 C207.85,535.50 207.92,517.67 208.15,516.19 L209.21,507.57 C209.21,583.33 209.29,607.51 209.50,610.23 Q209.85,620.20 210.54,622.02 L210.54,622.01 C210.55,535.50 210.62,517.67 210.85,516.19 L211.91,507.57 C211.91,583.33 211.99,607.50 212.20,610.22 Q212.55,620.20 213.24,622.01 L213.24,622.00 C213.25,535.50 213.32,517.67 213.55,516.19 L214.61,507.57 C214.61,583.33 214.69,607.50 214.90,610.22 Q215.26,620.19 215.94,622.00 L215.94,621.99 C215.95,535.50 216.02,517.67 216.25,516.19 L217.31,507.57 C217.32,583.33 217.39,607.49 217.60,610.21 Q217.96,620.18 218.64,621.99 L218.64,621.99 C218.65,535.50 218.72,517.67 218.95,516.19 L220.01,507.57 C220.02,583.32 220.09,607.49 220.30,610.21 Q220.66,620.18 221.34,621.99 L221.34,621.98 C221.35,535.50 221.42,517.67 221.65,516.19 L222.71,507.57 C222.72,583.32 222.79,607.48 223.00,610.20 Q223.36,620.17 224.04,621.98 L224.04,621.98 C224.05,535.50 224.12,517.67 224.35,516.19 L225.41,507.57 C225.42,583.32 225.49,607.48 225.70,610.20 Q226.06,620.16 226.74,621.98 L226.74,621.97 C226.75,535.50 226.82,517.67 227.06,516.19 L228.11,507.57 C228.12,583.32 228.19,607.48 228.40,610.19 Q228.76,620.16 229.44,621.97 L229.44,621.97 C229.45,535.50 229.53,517.67 229.76,516.19 L230.81,507.57 C230.82,583.32 230.89,607.47 231.10,610.19 Q231.46,620.16 232.14,621.97 L232.14,621.96 C232.15,535.50 232.23,517.67 232.46,516.19 L233.51,507.57 C233.52,583.32 233.59,607.47 233.80,610.19 Q234.16,620.15 234.85,621.96 L234.85,621.96 C234.85,535.50 234.93,517.67 235.16,516.19 L236.21,507.57 C236.22,583.31 236.29,607.47 236.50,610.18 Q236.86,620.15 237.55,621.96 L237.55,621.96 C237.55,535.50 237.63,517.67 237.86,516.19 L238.91,507.57 C238.92,583.31 238.99,607.46 239.20,610.18 Q239.56,620.14 240.25,621.96 L240.25,621.95 C240.25,535.50 240.33,517.67 240.56,516.19 L241.61,507.57 C241.62,583.31 241.69,607.46 241.90,610.18 Q242.26,620.14 242.95,621.95 L242.95,621.95 C242.96,535.50 243.03,517.67 243.26,516.19 L244.31,507.57 C244.32,583.31 244.39,607.46 244.61,610.18 Q244.96,620.14 245.65,621.95 L245.65,621.95 C245.66,535.50 245.73,517.67 245.96,516.19 L247.01,507.57 C247.02,583.31 247.10,607.46 247.31,610.17 Q247.66,620.14 248.35,621.95 L248.35,621.94 C248.36,535.50 248.43,517.67 248.66,516.19 L249.71,507.57 C249.72,583.31 249.80,607.46 250.01,610.17 Q250.36,620.13 251.05,621.94 L251.05,621.94 C251.06,535.50 251.13,517.67 251.36,516.19 L252.42,507.57 C252.42,583.31 252.50,607.45 252.71,610.17 Q253.06,620.13 253.75,621.94 L253.75,621.94 C253.76,535.50 253.83,517.67 254.06,516.19 L255.12,507.57 C255.12,583.31 255.20,607.45 255.41,610.17 Q255.76,620.13 256.45,621.94 L256.45,621.94 C256.46,535.50 256.53,517.67 256.76,516.19 L257.82,507.57 C257.82,583.31 257.90,607.45 258.11,610.17 Q258.47,620.13 259.15,621.94 L259.15,621.94 C259.16,535.50 259.23,517.67 259.46,516.19 L260.52,507.57 C260.53,583.31 260.60,607.45 260.81,610.17 Q261.17,620.12 261.85,621.94 L261.85,621.93 C261.86,535.50 261.93,517.67 262.16,516.19 L263.22,507.57 C263.23,583.31 263.30,607.45 263.51,610.16 Q263.87,620.12 264.55,621.93 L264.55,621.93 C264.56,535.50 264.63,517.67 264.86,516.19 L265.92,507.57 C265.93,583.31 266.00,607.45 266.21,610.16 Q266.57,620.12 267.25,621.93 L267.25,621.93 C267.26,535.50 267.33,517.67 267.56,516.19 L268.62,507.57 C268.63,583.31 268.70,607.45 268.91,610.16 Q269.27,620.12 269.95,621.93 L269.95,621.93 C269.96,535.50 270.03,517.67 270.27,516.19 L271.32,507.57 C271.33,583.31 271.40,607.45 271.61,610.16 Q271.97,620.12 272.65,621.93 L272.65,621.93 C272.66,535.50 272.74,517.67 272.97,516.19 L274.02,507.57 C274.03,583.30 274.10,607.44 274.31,610.16 Q274.67,620.12 275.35,621.93 L275.35,621.93 C275.36,535.50 275.44,517.67 275.67,516.19 L276.72,507.57 C276.73,583.30 276.80,607.44 277.01,610.16 Q277.37,620.12 278.06,621.93 L278.06,621.93 C278.06,535.50 278.14,517.67 278.37,516.19 L279.42,507.57 C279.43,583.30 279.50,607.44 279.71,610.16 Q280.07,620.12 280.76,621.93 L280.76,621.93 C280.76,535.50 280.84,517.67 281.07,516.19 L282.12,507.57 C282.13,583.30 282.20,607.44 282.41,610.16 Q282.77,620.12 283.46,621.93 L283.46,621.92 C283.46,535.50 283.54,517.67 283.77,516.19 L284.82,507.57 C284.83,583.30 284.90,607.44 285.12,610.16 Q285.47,620.11 286.16,621.92 L286.16,621.92 C286.17,535.50 286.24,517.67 286.47,516.19 L287.52,507.57 C287.53,583.30 287.60,607.44 287.82,610.16 Q288.17,620.11 288.86,621.92 L288.86,621.92 C288.87,535.50 288.94,517.67 289.17,516.19 L290.22,507.57 C290.23,583.30 290.31,607.44 290.52,610.16 Q290.87,620.11 291.56,621.92 L291.56,621.92 C291.57,535.50 291.64,517.67 291.87,516.19 L292.92,507.57 C292.93,583.30 293.01,607.44 293.22,610.16 Q293.57,620.11 294.26,621.92 L294.26,621.92 C294.27,535.50 294.34,517.67 294.57,516.19 L295.63,507.57 C295.63,583.30 295.71,607.44 295.92,610.16 Q296.27,620.11 296.96,621.92 L296.96,621.92 C296.97,535.50 297.04,517.67 297.27,516.19 L298.33,507.57 C298.33,583.30 298.41,607.44 298.62,610.15 Q298.98,620.11 299.66,621.92 L299.66,621.92 C299.67,535.50 299.74,517.67 299.97,516.19 L301.03,507.57 C301.03,583.30 301.11,607.44 301.32,610.15 Q301.68,620.11 302.36,621.92 L302.36,621.92 C302.37,535.50 302.44,517.67 302.67,516.19 L303.73,507.57 C303.74,583.30 303.81,607.44 304.02,610.15 Q304.38,620.11 305.06,621.92 L305.06,621.92 C305.07,535.50 305.14,517.67 305.37,516.19 L306.43,507.57 C306.44,583.30 306.51,607.44 306.72,610.15 Q307.08,620.11 307.76,621.92 L307.76,621.92 C307.77,535.50 307.84,517.67 308.07,516.19 L309.13,507.57 C309.14,583.30 309.21,607.44 309.42,610.15 Q309.78,620.11 310.46,621.92" fill="none" stroke="#1414ff" stroke-width="1" stroke-linejoin="round" clip-path="url(#cc)"/>
<rect x="64.30" y="398.50" width="243.20" height="242.70" fill="none" stroke="#111" stroke-width="1.1"/>
<line x1="59.30" y1="626.02" x2="64.30" y2="626.02" stroke="#111" stroke-width="1.1" />
<text x="56.70" y="631.02" font-size="15" text-anchor="end" >-2</text>
<line x1="59.30" y1="595.61" x2="64.30" y2="595.61" stroke="#111" stroke-width="1.1" />
<text x="56.70" y="600.61" font-size="15" text-anchor="end" >-1</text>
<line x1="59.30" y1="565.20" x2="64.30" y2="565.20" stroke="#111" stroke-width="1.1" />
<text x="56.70" y="570.20" font-size="15" text-anchor="end" >0</text>
<line x1="59.30" y1="534.79" x2="64.30" y2="534.79" stroke="#111" stroke-width="1.1" />
<text x="56.70" y="539.79" font-size="15" text-anchor="end" >1</text>
<line x1="59.30" y1="504.38" x2="64.30" y2="504.38" stroke="#111" stroke-width="1.1" />
<text x="56.70" y="509.38" font-size="15" text-anchor="end" >2</text>
<line x1="59.30" y1="473.97" x2="64.30" y2="473.97" stroke="#111" stroke-width="1.1" />
<text x="56.70" y="478.97" font-size="15" text-anchor="end" >3</text>
<line x1="59.30" y1="443.56" x2="64.30" y2="443.56" stroke="#111" stroke-width="1.1" />
<text x="56.70" y="448.56" font-size="15" text-anchor="end" >4</text>
<line x1="59.30" y1="413.15" x2="64.30" y2="413.15" stroke="#111" stroke-width="1.1" />
<text x="56.70" y="418.15" font-size="15" text-anchor="end" >5</text>
<line x1="61.30" y1="641.23" x2="64.30" y2="641.23" stroke="#111" stroke-width="1.1" />
<line x1="61.30" y1="610.82" x2="64.30" y2="610.82" stroke="#111" stroke-width="1.1" />
<line x1="61.30" y1="580.41" x2="64.30" y2="580.41" stroke="#111" stroke-width="1.1" />
<line x1="61.30" y1="550.00" x2="64.30" y2="550.00" stroke="#111" stroke-width="1.1" />
<line x1="61.30" y1="519.59" x2="64.30" y2="519.59" stroke="#111" stroke-width="1.1" />
<line x1="61.30" y1="489.18" x2="64.30" y2="489.18" stroke="#111" stroke-width="1.1" />
<line x1="61.30" y1="458.77" x2="64.30" y2="458.77" stroke="#111" stroke-width="1.1" />
<line x1="61.30" y1="428.36" x2="64.30" y2="428.36" stroke="#111" stroke-width="1.1" />
<line x1="61.30" y1="397.95" x2="64.30" y2="397.95" stroke="#111" stroke-width="1.1" />
<line x1="64.30" y1="641.20" x2="64.30" y2="646.20" stroke="#111" stroke-width="1.1" />
<text x="64.30" y="659.80" font-size="15" text-anchor="middle" >0</text>
<line x1="104.85" y1="641.20" x2="104.85" y2="646.20" stroke="#111" stroke-width="1.1" />
<text x="104.85" y="659.80" font-size="15" text-anchor="middle" >10</text>
<line x1="145.40" y1="641.20" x2="145.40" y2="646.20" stroke="#111" stroke-width="1.1" />
<text x="145.40" y="659.80" font-size="15" text-anchor="middle" >20</text>
<line x1="185.95" y1="641.20" x2="185.95" y2="646.20" stroke="#111" stroke-width="1.1" />
<text x="185.95" y="659.80" font-size="15" text-anchor="middle" >30</text>
<line x1="226.50" y1="641.20" x2="226.50" y2="646.20" stroke="#111" stroke-width="1.1" />
<text x="226.50" y="659.80" font-size="15" text-anchor="middle" >40</text>
<line x1="267.05" y1="641.20" x2="267.05" y2="646.20" stroke="#111" stroke-width="1.1" />
<text x="267.05" y="659.80" font-size="15" text-anchor="middle" >50</text>
<line x1="307.60" y1="641.20" x2="307.60" y2="646.20" stroke="#111" stroke-width="1.1" />
<text x="307.60" y="659.80" font-size="15" text-anchor="middle" >60</text>
<line x1="84.57" y1="641.20" x2="84.57" y2="644.20" stroke="#111" stroke-width="1.1" />
<line x1="125.12" y1="641.20" x2="125.12" y2="644.20" stroke="#111" stroke-width="1.1" />
<line x1="165.68" y1="641.20" x2="165.68" y2="644.20" stroke="#111" stroke-width="1.1" />
<line x1="206.22" y1="641.20" x2="206.22" y2="644.20" stroke="#111" stroke-width="1.1" />
<line x1="246.77" y1="641.20" x2="246.77" y2="644.20" stroke="#111" stroke-width="1.1" />
<line x1="287.32" y1="641.20" x2="287.32" y2="644.20" stroke="#111" stroke-width="1.1" />
<text x="185.70" y="684.00" font-size="14.4" text-anchor="middle" >Cycling time / h</text>
<text transform="translate(32.8,514.5) rotate(-90)" font-size="15" text-anchor="middle">Voltage / V</text>
<text x="35.5" y="386.2" font-size="14.75"><tspan font-style="italic">j</tspan> = 20 μA cm<tspan font-size="10" dy="-6">-2</tspan></text>
<text x="140.20" y="383.30" font-size="15" text-anchor="start" >Li</text>
<line x1="155.90" y1="369.00" x2="155.90" y2="385.00" stroke="#111" stroke-width="1.0" />
<text x="160.20" y="383.30" font-size="15" text-anchor="start" >Li</text>
<text x="171.40" y="386.80" font-size="10" text-anchor="start" >6.75</text>
<text x="191.20" y="383.30" font-size="15" text-anchor="start" >P</text>
<text x="201.50" y="386.80" font-size="10" text-anchor="start" >0.25</text>
<text x="220.30" y="383.30" font-size="15" text-anchor="start" >Si</text>
<text x="233.00" y="386.80" font-size="10" text-anchor="start" >0.75</text>
<text x="251.90" y="383.30" font-size="15" text-anchor="start" >O</text>
<text x="262.80" y="386.80" font-size="10" text-anchor="start" >5</text>
<text x="269.40" y="383.30" font-size="15" text-anchor="start" >Cl</text>
<line x1="288.20" y1="369.00" x2="288.20" y2="385.00" stroke="#111" stroke-width="1.0" />
<text x="291.50" y="383.30" font-size="15" text-anchor="start" >Li cell</text>
<clipPath id="cj"><rect x="127" y="398.5" width="180.5" height="61.3"/></clipPath>
<rect x="127" y="398.5" width="180.5" height="61.3" fill="#fff"/>
<polyline points="79.97,448.56 79.99,447.80 80.03,446.61 80.06,445.44 80.09,444.31 80.12,443.21 80.15,442.16 80.19,440.92 80.23,439.79 80.27,438.77 80.32,437.68 80.38,436.50 80.44,435.43 80.51,434.23 80.59,433.15 80.68,431.92 80.78,430.80 80.87,429.72 80.97,428.66 81.06,427.62 81.16,426.62 81.28,425.42 81.40,424.31 81.55,423.08 81.69,422.04 81.93,420.81 82.16,419.76 82.45,418.63 82.81,417.50 83.26,416.45 83.83,415.39 84.54,414.35 85.92,413.21 89.29,412.07 92.67,411.61 96.04,411.18 99.42,410.78 102.79,410.42 106.17,410.11 109.54,409.81 112.92,409.54 116.29,409.31 117.89,409.22 117.91,409.70 117.96,410.87 118.00,412.03 118.05,413.15 118.10,414.24 118.15,415.28 118.21,416.50 118.27,417.63 118.33,418.65 118.39,419.64 118.47,420.85 118.55,422.02 118.62,423.13 118.70,424.20 118.77,425.22 118.87,426.41 118.96,427.51 119.08,428.73 119.20,429.79 119.35,430.97 119.50,432.07 119.65,433.10 119.83,434.28 120.02,435.34 120.25,436.47 120.54,437.60 120.90,438.67 121.35,439.82 121.92,440.97 122.63,442.04 123.73,443.14 125.46,444.29 128.16,445.42 131.54,446.34 134.91,446.94 138.29,447.38 141.66,447.71 145.04,448.00 148.41,448.25 151.79,448.44 155.16,448.55 155.69,448.56 155.69,448.56 155.71,447.80 155.74,446.61 155.77,445.44 155.80,444.31 155.83,443.21 155.86,442.16 155.90,440.92 155.94,439.79 155.98,438.77 156.03,437.68 156.09,436.50 156.15,435.43 156.23,434.23 156.30,433.15 156.40,431.92 156.49,430.80 156.59,429.72 156.68,428.66 156.78,427.62 156.87,426.62 156.99,425.42 157.11,424.31 157.26,423.08 157.41,422.04 157.64,420.81 157.87,419.76 158.16,418.63 158.52,417.50 158.98,416.45 159.54,415.39 160.25,414.35 161.63,413.21 165.01,412.07 168.38,411.61 171.76,411.18 175.13,410.78 178.51,410.42 181.88,410.11 185.26,409.81 188.63,409.54 192.01,409.31 193.60,409.22 193.62,409.70 193.67,410.87 193.72,412.03 193.77,413.15 193.81,414.24 193.86,415.28 193.92,416.50 193.98,417.63 194.05,418.65 194.11,419.64 194.18,420.85 194.26,422.02 194.33,423.13 194.41,424.20 194.49,425.22 194.58,426.41 194.68,427.51 194.80,428.73 194.91,429.79 195.06,430.97 195.21,432.07 195.36,433.10 195.54,434.28 195.73,435.34 195.96,436.47 196.25,437.60 196.61,438.67 197.07,439.82 197.63,440.97 198.34,442.04 199.45,443.14 201.18,444.29 203.88,445.42 207.25,446.34 210.63,446.94 214.00,447.38 217.38,447.71 220.75,448.00 224.13,448.25 227.50,448.44 230.88,448.55 231.40,448.56 231.40,448.56 231.42,447.80 231.45,446.61 231.48,445.44 231.51,444.31 231.54,443.21 231.58,442.16 231.61,440.92 231.65,439.79 231.69,438.77 231.74,437.68 231.80,436.50 231.86,435.43 231.94,434.23 232.01,433.15 232.11,431.92 232.20,430.80 232.30,429.72 232.39,428.66 232.49,427.62 232.58,426.62 232.70,425.42 232.82,424.31 232.97,423.08 233.12,422.04 233.35,420.81 233.58,419.76 233.87,418.63 234.24,417.50 234.69,416.45 235.25,415.39 235.96,414.35 237.34,413.21 240.72,412.07 244.09,411.61 247.47,411.18 250.84,410.78 254.22,410.42 257.59,410.11 260.97,409.81 264.34,409.54 267.72,409.31 269.31,409.22 269.33,409.70 269.38,410.87 269.43,412.03 269.48,413.15 269.53,414.24 269.58,415.28 269.64,416.50 269.70,417.63 269.76,418.65 269.82,419.64 269.89,420.85 269.97,422.02 270.05,423.13 270.12,424.20 270.20,425.22 270.29,426.41 270.39,427.51 270.51,428.73 270.63,429.79 270.77,430.97 270.92,432.07 271.07,433.10 271.26,434.28 271.44,435.34 271.67,436.47 271.96,437.60 272.33,438.67 272.78,439.82 273.35,440.97 274.05,442.04 275.16,443.14 276.89,444.29 279.59,445.42 282.96,446.34 286.34,446.94 289.71,447.38 293.09,447.71 296.46,448.00 299.84,448.25 303.21,448.44 306.59,448.55 307.11,448.56 307.11,448.56 307.13,447.80 307.16,446.61 307.19,445.44 307.23,444.31 307.26,443.21 307.29,442.16 307.33,440.92 307.37,439.79 307.40,438.77 307.45,437.68 307.51,436.50 307.58,435.43 307.65,434.23 307.73,433.15 307.82,431.92 307.92,430.80 308.01,429.72 308.11,428.66 308.20,427.62 308.30,426.62 308.42,425.42 308.53,424.31 308.68,423.08 308.83,422.04 309.06,420.81 309.30,419.76 309.59,418.63 309.95,417.50 310.40,416.45 310.97,415.39 311.67,414.35 313.06,413.21 316.43,412.07 319.81,411.61 323.18,411.18 326.56,410.78 329.93,410.42 333.31,410.11 336.68,409.81 340.06,409.54 343.43,409.31 345.03,409.22 345.05,409.82 345.10,410.99 345.15,412.14 345.20,413.26 345.24,414.35 345.29,415.38 345.35,416.60 345.41,417.71 345.48,418.73 345.54,419.72 345.61,420.93 345.69,422.09 345.76,423.21 345.84,424.27 345.92,425.29 346.01,426.47 346.11,427.56 346.23,428.78 346.34,429.83 346.49,431.01 346.64,432.11 346.79,433.14 346.97,434.31 347.16,435.36 347.39,436.49 347.68,437.61 348.04,438.68 348.50,439.83 349.06,440.98 349.77,442.04 350.88,443.15 352.61,444.29 355.31,445.42 358.68,446.34 362.06,446.94 365.43,447.38 368.81,447.71 372.18,448.00 375.56,448.25 378.93,448.44 382.31,448.55 382.83,448.56" fill="none" stroke="#2828f0" stroke-width="1.1" stroke-linejoin="round" clip-path="url(#cj)"/>
<rect x="127.00" y="398.50" width="180.50" height="61.30" fill="none" stroke="#111" stroke-width="1.1"/>
<line x1="122.50" y1="449.80" x2="127.00" y2="449.80" stroke="#111" stroke-width="1.1" />
<text x="119.00" y="455.10" font-size="15" text-anchor="end" >-2</text>
<line x1="122.50" y1="429.20" x2="127.00" y2="429.20" stroke="#111" stroke-width="1.1" />
<text x="119.00" y="434.50" font-size="15" text-anchor="end" >0</text>
<line x1="122.50" y1="408.60" x2="127.00" y2="408.60" stroke="#111" stroke-width="1.1" />
<text x="119.00" y="413.90" font-size="15" text-anchor="end" >2</text>
<line x1="124.30" y1="460.10" x2="127.00" y2="460.10" stroke="#111" stroke-width="1.1" />
<line x1="124.30" y1="439.50" x2="127.00" y2="439.50" stroke="#111" stroke-width="1.1" />
<line x1="124.30" y1="418.90" x2="127.00" y2="418.90" stroke="#111" stroke-width="1.1" />
<line x1="124.30" y1="398.30" x2="127.00" y2="398.30" stroke="#111" stroke-width="1.1" />
<line x1="149.50" y1="459.80" x2="149.50" y2="464.30" stroke="#111" stroke-width="1.1" />
<text x="149.50" y="478.00" font-size="15" text-anchor="middle" >40.4</text>
<line x1="194.50" y1="459.80" x2="194.50" y2="464.30" stroke="#111" stroke-width="1.1" />
<text x="194.50" y="478.00" font-size="15" text-anchor="middle" >40.8</text>
<line x1="239.50" y1="459.80" x2="239.50" y2="464.30" stroke="#111" stroke-width="1.1" />
<text x="239.50" y="478.00" font-size="15" text-anchor="middle" >41.2</text>
<line x1="284.50" y1="459.80" x2="284.50" y2="464.30" stroke="#111" stroke-width="1.1" />
<text x="284.50" y="478.00" font-size="15" text-anchor="middle" >41.6</text>
<line x1="127.00" y1="459.80" x2="127.00" y2="462.50" stroke="#111" stroke-width="1.1" />
<line x1="172.00" y1="459.80" x2="172.00" y2="462.50" stroke="#111" stroke-width="1.1" />
<line x1="217.00" y1="459.80" x2="217.00" y2="462.50" stroke="#111" stroke-width="1.1" />
<line x1="262.00" y1="459.80" x2="262.00" y2="462.50" stroke="#111" stroke-width="1.1" />
<line x1="307.00" y1="459.80" x2="307.00" y2="462.50" stroke="#111" stroke-width="1.1" />
<text x="217.30" y="492.60" font-size="14.5" text-anchor="middle" >Cycling time / h</text>
<text transform="translate(102.4,443.3) rotate(-90)" font-size="15" text-anchor="middle">Voltage / V</text>
<text x="358.10" y="376.00" font-size="18" text-anchor="start" >d)</text>
<polyline points="398.60,411.00 399.23,411.01 399.87,411.02 400.50,411.03 401.13,411.04 401.77,411.04 402.40,411.05 403.03,411.06 403.67,411.08 404.30,411.09 404.94,411.10 405.57,411.11 406.20,411.12 406.84,411.14 407.47,411.15 408.10,411.17 408.74,411.18 409.37,411.20 410.00,411.21 410.64,411.23 411.27,411.25 411.90,411.27 412.54,411.29 413.17,411.31 413.80,411.34 414.44,411.36 415.07,411.38 415.70,411.41 416.34,411.44 416.97,411.47 417.61,411.50 418.24,411.53 418.87,411.56 419.51,411.59 420.14,411.63 420.77,411.67 421.41,411.71 422.04,411.75 422.67,411.79 423.31,411.84 423.94,411.89 424.57,411.94 425.21,411.99 425.84,412.04 426.47,412.10 427.11,412.16 427.74,412.23 428.37,412.29 429.01,412.36 429.64,412.43 430.28,412.51 430.91,412.59 431.54,412.67 432.18,412.76 432.81,412.85 433.44,412.95 434.08,413.05 434.71,413.15 435.34,413.26 435.98,413.38 436.61,413.50 437.24,413.63 437.88,413.76 438.51,413.90 439.14,414.04 439.78,414.20 440.41,414.35 441.04,414.52 441.68,414.69 442.31,414.88 442.95,415.07 443.58,415.27 444.21,415.48 444.85,415.69 445.48,415.92 446.11,416.16 446.75,416.41 447.38,416.67 448.01,416.94 448.65,417.23 449.28,417.53 449.91,417.84 450.55,418.16 451.18,418.50 451.81,418.86 452.45,419.23 453.08,419.61 453.71,420.02 454.35,420.44 454.98,420.88 455.62,421.34 456.25,421.81 456.88,422.31 457.52,422.83 458.15,423.37 458.78,423.94 459.42,424.53 460.05,425.14 460.68,425.78 461.32,426.44 461.95,427.13 462.58,427.85 463.22,428.60 463.85,429.38 464.48,430.18 465.12,431.02 465.75,431.89 466.38,432.79 467.02,433.73 467.65,434.70 468.29,435.71 468.92,436.75 469.55,437.83 470.19,438.95 470.82,440.11 471.45,441.30 472.09,442.54 472.72,443.81 473.35,445.13 473.99,446.49 474.62,447.89 475.25,449.33 475.89,450.81 476.52,452.34 477.15,453.91 477.79,455.52 478.42,457.17 479.05,458.87 479.69,460.61 480.32,462.39 480.96,464.21 481.59,466.07 482.22,467.98 482.86,469.92 483.49,471.90 484.12,473.92 484.76,475.97 485.39,478.06 486.02,480.18 486.66,482.33 487.29,484.51 487.92,486.72 488.56,488.96 489.19,491.23 489.82,493.51 490.46,495.82 491.09,498.14 491.72,500.48 492.36,502.83 492.99,505.20 493.62,507.57 494.26,509.95 494.89,512.34 495.53,514.72 496.16,517.11 496.79,519.49 497.43,521.87 498.06,524.24 498.69,526.59 499.33,528.94 499.96,531.27 500.59,533.58 501.23,535.88 501.86,538.15 502.49,540.40 503.13,542.63 503.76,544.83 504.39,547.00 505.03,549.14 505.66,551.25 506.30,553.32 506.93,555.37 507.56,557.38 508.20,559.35 508.83,561.29 509.46,563.19 510.10,565.05 510.73,566.87 511.36,568.65 512.00,570.40 512.63,572.10 513.26,573.77 513.90,575.39 514.53,576.98 515.16,578.52 515.80,580.03 516.43,581.49 517.06,582.92 517.70,584.31 518.33,585.66 518.97,586.97 519.60,588.24 520.23,589.48 520.87,590.68 521.50,591.84 522.13,592.97 522.77,594.06 523.40,595.12 524.03,596.15 524.67,597.14 525.30,598.10 525.93,599.03 526.57,599.93 527.20,600.80 527.83,601.64 528.47,602.46 529.10,603.24 529.73,604.00 530.37,604.73 531.00,605.44 531.63,606.12 532.27,606.78 532.90,607.42 533.54,608.03 534.17,608.62 534.80,609.19 535.44,609.74 536.07,610.27 536.70,610.78 537.34,611.28 537.97,611.75 538.60,612.21 539.24,612.65 539.87,613.07 540.50,613.48 541.14,613.87 541.77,614.25 542.40,614.61 543.04,614.97 543.67,615.30 544.31,615.63 544.94,615.94 545.57,616.24 546.21,616.53 546.84,616.81 547.47,617.08 548.11,617.33 548.74,617.58 549.37,617.82 550.01,618.05 550.64,618.27 551.27,618.48 551.91,618.68 552.54,618.88 553.17,619.07 553.81,619.25 554.44,619.42 555.07,619.59 555.71,619.75 556.34,619.91 556.98,620.06 557.61,620.20 558.24,620.34 558.88,620.47 559.51,620.59 560.14,620.72 560.78,620.83 561.41,620.95 562.04,621.05 562.68,621.16 563.31,621.26 563.94,621.35 564.58,621.45 565.21,621.53 565.84,621.62 566.48,621.70 567.11,621.78 567.74,621.86 568.38,621.93 569.01,622.00 569.64,622.06 570.28,622.13 570.91,622.19 571.55,622.25 572.18,622.31 572.81,622.36 573.45,622.41 574.08,622.47 574.71,622.51 575.35,622.56 575.98,622.61 576.61,622.65 577.25,622.69 577.88,622.73 578.51,622.77 579.15,622.80 579.78,622.84 580.41,622.87 581.05,622.91 581.68,622.94 582.32,622.97 582.95,623.00 583.58,623.02 584.22,623.05 584.85,623.08 585.48,623.10 586.12,623.12 586.75,623.15 587.38,623.17 588.02,623.19 588.65,623.21 589.28,623.23 589.92,623.25 590.55,623.26 591.18,623.28 591.82,623.30 592.45,623.31 593.08,623.33 593.72,623.34 594.35,623.36 594.99,623.37 595.62,623.38 596.25,623.40 596.89,623.41 597.52,623.42 598.15,623.43 598.79,623.44 599.42,623.45 600.05,623.46 600.69,623.47 601.32,623.48 601.95,623.49 602.59,623.50 603.22,623.50 603.85,623.51 604.49,623.52 605.12,623.53 605.75,623.53 606.39,623.54 607.02,623.55 607.65,623.55 608.29,623.56 608.92,623.56 609.56,623.57 610.19,623.57 610.82,623.58 611.46,623.58 612.09,623.59 612.72,623.59 613.36,623.60 613.99,623.60 614.62,623.60 615.26,623.61 615.89,623.61 616.52,623.61 617.16,623.62 617.79,623.62 618.42,623.62 619.06,623.63 619.69,623.63 620.33,623.63 620.96,623.63 621.59,623.64 622.23,623.64 622.86,623.64 623.49,623.64 624.13,623.65 624.76,623.65 625.39,623.65 626.03,623.65 626.66,623.65 627.29,623.65 627.93,623.66 628.56,623.66 629.19,623.66 629.83,623.66 630.46,623.66 631.09,623.66 631.73,623.67 632.36,623.67 633.00,623.67 633.63,623.67 634.26,623.67 634.90,623.67 635.53,623.67 636.16,623.67 636.80,623.67 637.43,623.67 638.06,623.68 638.70,623.68 639.33,623.68 639.96,623.68 640.60,623.68 641.23,623.68 641.86,623.68 642.50,623.68 643.13,623.68 643.76,623.68 644.40,623.68 645.03,623.68 645.66,623.68 646.30,623.68 646.93,623.68 647.57,623.68 648.20,623.69 648.83,623.69 649.47,623.69 650.10,623.69 650.73,623.69 651.37,623.69 652.00,623.69" fill="none" stroke="#111" stroke-width="1.2" stroke-linejoin="round" />
<polyline points="398.6,411.5 466.9,411.5 484.0,472.8" fill="none" stroke="#111" stroke-width="1.1" stroke-dasharray="3.6,2.4"/>
<circle cx="466.9" cy="411.5" r="1.9" fill="#111"/>
<circle cx="420.6" cy="413.3" r="2.6" fill="#111"/>
<circle cx="433.3" cy="415.4" r="2.6" fill="#111"/>
<circle cx="442.9" cy="415.4" r="2.6" fill="#111"/>
<circle cx="452.6" cy="417.3" r="2.6" fill="#111"/>
<circle cx="461.8" cy="431.8" r="2.6" fill="#111"/>
<circle cx="468.2" cy="440.2" r="2.6" fill="#111"/>
<circle cx="474.5" cy="445.5" r="2.6" fill="#111"/>
<circle cx="481.2" cy="464.0" r="2.6" fill="#111"/>
<circle cx="487.5" cy="484.8" r="2.6" fill="#111"/>
<circle cx="496.8" cy="532.0" r="2.6" fill="#111"/>
<circle cx="515.9" cy="567.7" r="2.6" fill="#111"/>
<circle cx="522.3" cy="591.7" r="2.6" fill="#111"/>
<circle cx="528.3" cy="605.7" r="2.6" fill="#111"/>
<circle cx="534.9" cy="613.5" r="2.6" fill="#111"/>
<circle cx="541.2" cy="616.9" r="2.6" fill="#111"/>
<circle cx="547.5" cy="619.2" r="2.6" fill="#111"/>
<circle cx="553.8" cy="620.2" r="2.6" fill="#111"/>
<circle cx="560.1" cy="620.7" r="2.6" fill="#111"/>
<circle cx="572.9" cy="620.7" r="2.6" fill="#111"/>
<circle cx="579.2" cy="620.7" r="2.6" fill="#111"/>
<circle cx="598.3" cy="620.7" r="2.6" fill="#111"/>
<rect x="398.60" y="400.20" width="253.40" height="238.10" fill="none" stroke="#111" stroke-width="1.1"/>
<line x1="398.60" y1="638.30" x2="398.60" y2="642.30" stroke="#111" stroke-width="1.1" />
<line x1="398.60" y1="400.20" x2="398.60" y2="396.20" stroke="#111" stroke-width="1.1" />
<text x="401.10" y="659.30" font-size="15" text-anchor="middle" >140</text>
<text x="400.70" y="391.10" font-size="15" text-anchor="middle" >-133</text>
<line x1="449.28" y1="638.30" x2="449.28" y2="642.30" stroke="#111" stroke-width="1.1" />
<line x1="449.28" y1="400.20" x2="449.28" y2="396.20" stroke="#111" stroke-width="1.1" />
<text x="451.78" y="659.30" font-size="15" text-anchor="middle" >220</text>
<text x="451.38" y="391.10" font-size="15" text-anchor="middle" >-53</text>
<line x1="499.96" y1="638.30" x2="499.96" y2="642.30" stroke="#111" stroke-width="1.1" />
<line x1="499.96" y1="400.20" x2="499.96" y2="396.20" stroke="#111" stroke-width="1.1" />
<text x="502.46" y="659.30" font-size="15" text-anchor="middle" >300</text>
<text x="502.06" y="391.10" font-size="15" text-anchor="middle" >27</text>
<line x1="550.64" y1="638.30" x2="550.64" y2="642.30" stroke="#111" stroke-width="1.1" />
<line x1="550.64" y1="400.20" x2="550.64" y2="396.20" stroke="#111" stroke-width="1.1" />
<text x="553.14" y="659.30" font-size="15" text-anchor="middle" >380</text>
<text x="552.74" y="391.10" font-size="15" text-anchor="middle" >107</text>
<line x1="601.32" y1="638.30" x2="601.32" y2="642.30" stroke="#111" stroke-width="1.1" />
<line x1="601.32" y1="400.20" x2="601.32" y2="396.20" stroke="#111" stroke-width="1.1" />
<text x="603.82" y="659.30" font-size="15" text-anchor="middle" >460</text>
<text x="603.42" y="391.10" font-size="15" text-anchor="middle" >187</text>
<line x1="652.00" y1="638.30" x2="652.00" y2="642.30" stroke="#111" stroke-width="1.1" />
<line x1="652.00" y1="400.20" x2="652.00" y2="396.20" stroke="#111" stroke-width="1.1" />
<text x="654.50" y="659.30" font-size="15" text-anchor="middle" >540</text>
<text x="654.10" y="391.10" font-size="15" text-anchor="middle" >267</text>
<line x1="394.60" y1="638.10" x2="398.60" y2="638.10" stroke="#111" stroke-width="1.1" />
<text x="383.80" y="641.20" font-size="15" text-anchor="middle" >0</text>
<line x1="394.60" y1="616.47" x2="398.60" y2="616.47" stroke="#111" stroke-width="1.1" />
<text x="383.80" y="619.57" font-size="15" text-anchor="middle" >1</text>
<line x1="394.60" y1="594.85" x2="398.60" y2="594.85" stroke="#111" stroke-width="1.1" />
<text x="383.80" y="597.95" font-size="15" text-anchor="middle" >2</text>
<line x1="394.60" y1="573.22" x2="398.60" y2="573.22" stroke="#111" stroke-width="1.1" />
<text x="383.80" y="576.32" font-size="15" text-anchor="middle" >3</text>
<line x1="394.60" y1="551.59" x2="398.60" y2="551.59" stroke="#111" stroke-width="1.1" />
<text x="383.80" y="554.69" font-size="15" text-anchor="middle" >4</text>
<line x1="394.60" y1="529.97" x2="398.60" y2="529.97" stroke="#111" stroke-width="1.1" />
<text x="383.80" y="533.07" font-size="15" text-anchor="middle" >5</text>
<line x1="394.60" y1="508.34" x2="398.60" y2="508.34" stroke="#111" stroke-width="1.1" />
<text x="383.80" y="511.44" font-size="15" text-anchor="middle" >6</text>
<line x1="394.60" y1="486.71" x2="398.60" y2="486.71" stroke="#111" stroke-width="1.1" />
<text x="383.80" y="489.81" font-size="15" text-anchor="middle" >7</text>
<line x1="394.60" y1="465.08" x2="398.60" y2="465.08" stroke="#111" stroke-width="1.1" />
<text x="383.80" y="468.18" font-size="15" text-anchor="middle" >8</text>
<line x1="394.60" y1="443.46" x2="398.60" y2="443.46" stroke="#111" stroke-width="1.1" />
<text x="383.80" y="446.56" font-size="15" text-anchor="middle" >9</text>
<line x1="394.60" y1="421.83" x2="398.60" y2="421.83" stroke="#111" stroke-width="1.1" />
<text x="383.80" y="424.93" font-size="15" text-anchor="middle" >10</text>
<line x1="394.60" y1="400.20" x2="398.60" y2="400.20" stroke="#111" stroke-width="1.1" />
<text x="383.80" y="403.30" font-size="15" text-anchor="middle" >11</text>
<text x="529.00" y="683.60" font-size="14.6" text-anchor="middle" >T / K</text>
<text x="522.00" y="373.00" font-size="14.3" text-anchor="middle" >T / °C</text>
<text transform="translate(368.3,518.1) rotate(-90)" font-size="15" text-anchor="middle">ω/2π / kHz</text>
<text x="472.70" y="418.90" font-size="15.2" text-anchor="start" >T</text>
<text x="479.00" y="421.20" font-size="11.75" text-anchor="start" >onset</text></svg></body></html>
